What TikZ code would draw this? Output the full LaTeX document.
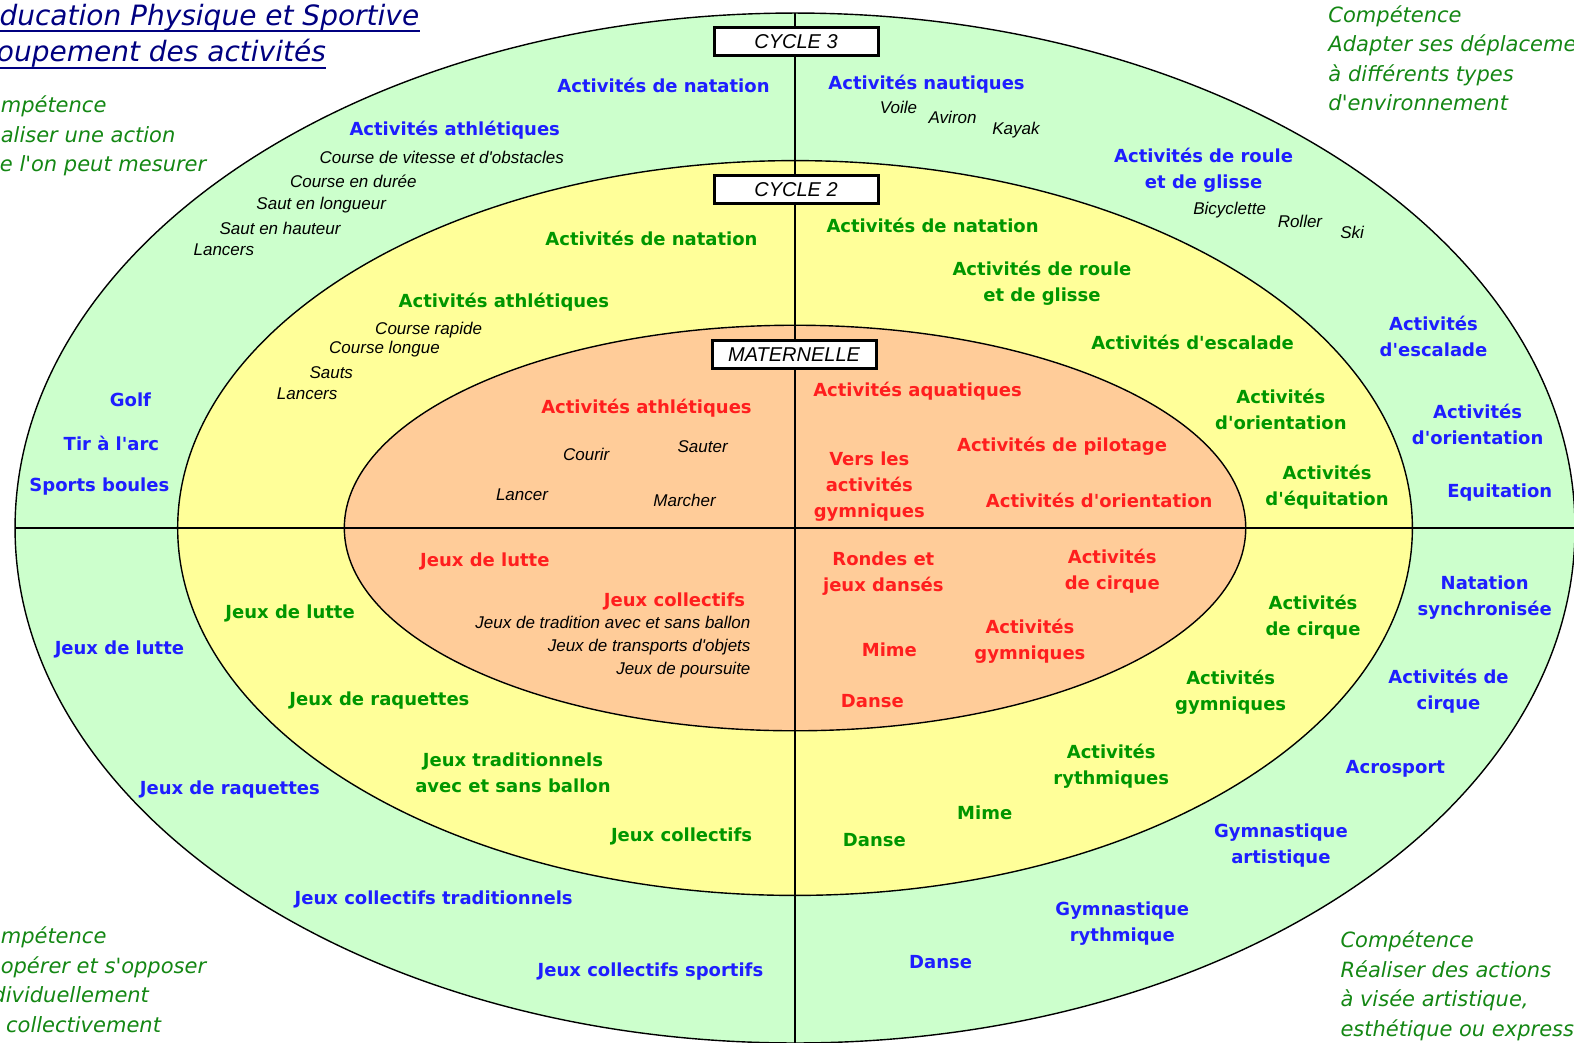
\documentclass[tikz,border=0pt]{standalone}
\usepackage{fontspec}
\setmainfont{DejaVu Sans}
\newfontfamily\labelfont{DejaVu Sans}
\newfontfamily\arialfont{Liberation Sans}
\newfontfamily\comicfont{DejaVu Sans}
\definecolor{vertclair}{RGB}{204,255,204}
\definecolor{jaune}{RGB}{255,255,153}
\definecolor{saumon}{RGB}{255,204,153}
\definecolor{bleu}{RGB}{30,30,255}
\definecolor{vert}{RGB}{0,150,0}
\definecolor{rouge}{RGB}{255,30,30}
\definecolor{vertcomp}{RGB}{20,135,20}
\definecolor{marine}{RGB}{0,0,128}
\begin{document}
\begin{tikzpicture}[x=0.50191pt, y=-0.50191pt,
  cyc3/.style={text=bleu, font=\labelfont\fontsize{9}{13}\selectfont\bfseries, align=center},
  cyc2/.style={text=vert, font=\labelfont\fontsize{9}{13}\selectfont\bfseries, align=center},
  mat/.style={text=rouge, font=\labelfont\fontsize{9}{13}\selectfont\bfseries, align=center},
  detail/.style={font=\arialfont\itshape\fontsize{8.5}{10}\selectfont, inner sep=0pt},
  comp/.style={text=vertcomp, font=\comicfont\itshape\fontsize{10.5}{14.75}\selectfont, align=left, anchor=north west, inner sep=0pt},
  titre/.style={text=marine, font=\comicfont\itshape\fontsize{14}{17}\selectfont, inner sep=0pt, anchor=base east},
  cyclebox/.style={draw, line width=1.5pt, fill=white, minimum width=82pt, minimum height=14pt, inner sep=0pt, font=\arialfont\itshape\fontsize{10}{12}\selectfont}]
\useasboundingbox (0,0) rectangle (1568,1039);
\coordinate (centre) at (792,526);
\filldraw[fill=vertclair, line width=0.7pt] (centre) ellipse [x radius=777, y radius=513];
\filldraw[fill=jaune, line width=0.7pt] (centre) ellipse [x radius=615, y radius=366];
\filldraw[fill=saumon, line width=0.7pt] (centre) ellipse [x radius=449, y radius=202];
\coordinate (haut) at (792,13);
\coordinate (bas) at (792,1039);
\coordinate (gauche) at (15,526);
\coordinate (droite) at (1568,526);
\draw[line width=0.8pt] (haut) -- (bas);
\draw[line width=0.8pt] (gauche) -- (droite);
\node[cyclebox] (cycle3) at (793,41) {CYCLE 3};
\node[cyclebox] (cycle2) at (793,189) {CYCLE 2};
\node[cyclebox] (maternelle) at (791,353) {MATERNELLE};

\node[titre] (titre1) at (418,25) {Éducation Physique et Sportive};
\node[titre] (titre2) at (325,61) {Regroupement des activités};
\draw[marine, line width=1.2pt] ([yshift=-3pt]titre1.base west) -- ([yshift=-3pt]titre1.base east);
\draw[marine, line width=1.2pt] ([yshift=-3.5pt]titre2.base west) -- ([yshift=-3.5pt]titre2.base east);

\node[comp] (comp1) at (-27,95) {Compétence\\Réaliser une action\\que l'on peut mesurer};
\node[comp] (comp2) at (1323,5) {Compétence\\Adapter ses déplacements\\à différents types\\d'environnement};
\node[comp] (comp3) at (-27,923) {Compétence\\Coopérer et s'opposer\\individuellement\\ou collectivement};
\node[comp] (comp4) at (1335,927) {Compétence\\Réaliser des actions\\à visée artistique,\\esthétique ou expressive};

\node[cyc3] (c3natation) at (661,85) {Activités de natation};
\node[cyc3] (c3nautiques) at (923,84) {Activités nautiques};
\node[detail] (voile) at (895,107) {Voile};
\node[detail] (aviron) at (949,117) {Aviron};
\node[detail] (kayak) at (1012,130) {Kayak};
\node[cyc3] (c3athle) at (453,130) {Activités athlétiques};
\node[detail] (vitesse) at (440,157) {Course de vitesse et d'obstacles};
\node[detail] (duree) at (352,181) {Course en durée};
\node[detail] (longueur) at (320,204) {Saut en longueur};
\node[detail] (hauteur) at (279,228) {Saut en hauteur};
\node[detail] (c3lancers) at (223,249) {Lancers};
\node[cyc3] (c3roule) at (1199,170) {Activités de roule\\et de glisse};
\node[detail] (bicyclette) at (1225,209) {Bicyclette};
\node[detail] (roller) at (1295,221) {Roller};
\node[detail] (ski) at (1347,232) {Ski};
\node[cyc3] (c3escalade) at (1428,335) {Activités\\d'escalade};
\node[cyc3] (c3orientation) at (1472,423) {Activités\\d'orientation};
\node[cyc3] (equitation) at (1494,491) {Equitation};
\node[cyc3] (golf) at (130,398) {Golf};
\node[cyc3] (tirarc) at (111,442) {Tir à l'arc};
\node[cyc3] (boules) at (99,485) {Sports boules};
\node[cyc3] (c3lutte) at (119,647) {Jeux de lutte};
\node[cyc3] (synchro) at (1479,595) {Natation\\synchronisée};
\node[cyc3] (c3cirque) at (1443,689) {Activités de\\cirque};
\node[cyc3] (acrosport) at (1390,766) {Acrosport};
\node[cyc3] (artistique) at (1276,842) {Gymnastique\\artistique};
\node[cyc3] (c3raquettes) at (229,787) {Jeux de raquettes};
\node[cyc3] (c3tradi) at (432,896) {Jeux collectifs traditionnels};
\node[cyc3] (rythmique) at (1118,920) {Gymnastique\\rythmique};
\node[cyc3] (c3danse) at (937,958) {Danse};
\node[cyc3] (sportifs) at (648,968) {Jeux collectifs sportifs};

\node[cyc2] (c2natation1) at (649,238) {Activités de natation};
\node[cyc2] (c2natation2) at (929,225) {Activités de natation};
\node[cyc2] (c2athle) at (502,301) {Activités athlétiques};
\node[detail] (rapide) at (427,329) {Course rapide};
\node[detail] (longue) at (383,348) {Course longue};
\node[detail] (sauts) at (330,371) {Sauts};
\node[detail] (c2lancers) at (306,392) {Lancers};
\node[cyc2] (c2roule) at (1038,282) {Activités de roule\\et de glisse};
\node[cyc2] (c2escalade) at (1188,341) {Activités d'escalade};
\node[cyc2] (c2orientation) at (1276,408) {Activités\\d'orientation};
\node[cyc2] (c2equitation) at (1322,485) {Activités\\d'équitation};
\node[cyc2] (c2lutte) at (289,611) {Jeux de lutte};
\node[cyc2] (c2cirque) at (1308,615) {Activités\\de cirque};
\node[cyc2] (c2raquettes) at (378,698) {Jeux de raquettes};
\node[cyc2] (c2gymniques) at (1226,690) {Activités\\gymniques};
\node[cyc2] (c2tradi) at (511,770) {Jeux traditionnels\\avec et sans ballon};
\node[cyc2] (rythmiques) at (1107,763) {Activités\\rythmiques};
\node[cyc2] (c2mime) at (981,810) {Mime};
\node[cyc2] (c2collectifs) at (679,833) {Jeux collectifs};
\node[cyc2] (c2danse) at (871,837) {Danse};

\node[mat] (matathle) at (644,407) {Activités athlétiques};
\node[mat] (aquatiques) at (914,390) {Activités aquatiques};
\node[detail] (courir) at (584,453) {Courir};
\node[detail] (sauter) at (700,445) {Sauter};
\node[detail] (lancer) at (520,493) {Lancer};
\node[detail] (marcher) at (682,499) {Marcher};
\node[mat] (vers) at (866,485) {Vers les\\activités\\gymniques};
\node[mat] (pilotage) at (1058,445) {Activités de pilotage};
\node[mat] (matorientation) at (1095,499) {Activités d'orientation};
\node[mat] (matlutte) at (483,559) {Jeux de lutte};
\node[mat] (matcollectifs) at (672,599) {Jeux collectifs};
\node[detail, anchor=east] (tradition) at (748,620) {Jeux de tradition avec et sans ballon};
\node[detail, anchor=east] (transports) at (748,645) {Jeux de transports d'objets};
\node[detail, anchor=east] (poursuite) at (748,668) {Jeux de poursuite};
\node[mat] (rondes) at (880,571) {Rondes et\\jeux dansés};
\node[mat] (matcirque) at (1108,569) {Activités\\de cirque};
\node[mat] (matmime) at (886,647) {Mime};
\node[mat] (matgymniques) at (1026,639) {Activités\\gymniques};
\node[mat] (matdanse) at (869,698) {Danse};
\end{tikzpicture}
\end{document}
